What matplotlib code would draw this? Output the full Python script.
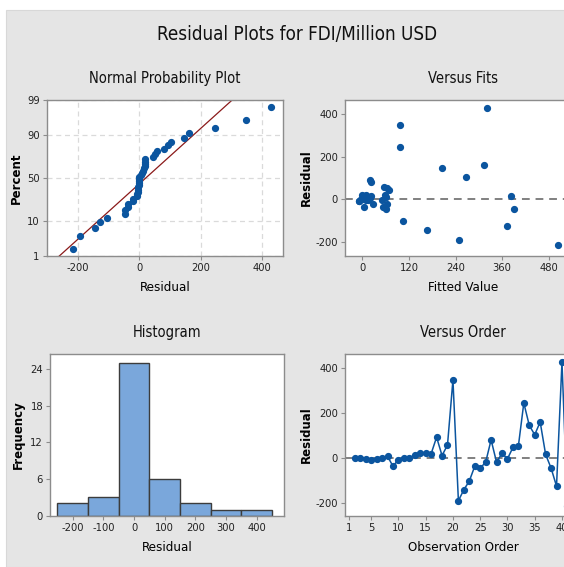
import numpy as np
import matplotlib
matplotlib.use('Agg')
import matplotlib.pyplot as plt
from matplotlib.patches import Rectangle
from statistics import NormalDist

plt.rcParams['axes.unicode_minus'] = False

order = list(range(2, 42))
residuals = [0, 0, -5, -8, -5, 0, 7, -38, -8, 0,
             0, 13, 20, 20, 18, 92, 10, 57, 348, -192,
             -143, -104, -38, -46, -20, 80, -20, 20, -5, 46,
             52, 245, 145, 103, 160, 15, -46, -127, 428, -215]
# fitted values paired with the residuals above (from "Versus Fits")
fitted = [5, -5, 10, -10, 15, 0, 20, 5, -8, 12,
          2, 8, -2, 8, 22, 20, 60, 55, 98, 249,
          166, 105, 52, 60, 27, 22, 62, 57, 50, 68,
          62, 97, 206, 267, 314, 383, 391, 373, 320, 505]

hist_edges = [-250, -150, -50, 50, 150, 250, 350, 450]
hist_ticks = [-200, -100, 0, 100, 200, 300, 400]
prob_ticks = [1, 10, 50, 90, 99]

BLUE = '#0b559f'
NARROW = dict(family='DejaVu Sans', stretch='condensed')
SPINE = '#8c8c8c'

W, H = 564, 567
fig = plt.figure(figsize=(W / 100, H / 100), dpi=100, facecolor='white')
fig.patches.append(Rectangle((6 / W, 0), 1, 1 - 10 / H, transform=fig.transFigure,
                             facecolor='#e5e5e5', edgecolor='#d8d8d8', lw=0.8, zorder=-5))


def box(l, t, r, b):
    return [l / W, 1 - b / H, (r - l) / W, (b - t) / H]


def style(ax):
    for s in ax.spines.values():
        s.set_color(SPINE)
        s.set_linewidth(1.0)
    ax.tick_params(direction='out', length=3, width=0.8, color=SPINE,
                   labelsize=8, pad=2)
    for lab in ax.get_xticklabels() + ax.get_yticklabels():
        lab.set_family('DejaVu Sans')
        lab.set_stretch('condensed')
        lab.set_color('#222222')


fig.text(0.527, 1 - 35 / H, 'Residual Plots for FDI/Million USD', ha='center', va='center',
         fontsize=13.5, color='#111111', **NARROW)

# --- Normal probability plot
ax1 = fig.add_axes(box(46.7, 100, 283.3, 255.7))
n = len(residuals)
srt = np.sort(residuals)
pct = (np.arange(1, n + 1) - 0.3) / (n + 0.4)
z = np.array([NormalDist().inv_cdf(p) for p in pct])
mu, sd = np.mean(residuals), np.std(residuals, ddof=1)
xl = np.array([-320, 480])
ax1.plot(xl, (xl - mu) / sd, color='#8b1a1a', lw=0.9, zorder=2)
ax1.plot(srt, z, 'o', color=BLUE, ms=4.2, zorder=3)
zt = [NormalDist().inv_cdf(p / 100) for p in prob_ticks]
ax1.set_yticks(zt)
ax1.set_yticklabels([str(p) for p in prob_ticks])
ax1.set_ylim(zt[0], zt[-1])
ax1.set_xlim(-301, 468)
ax1.set_xticks([-200, 0, 200, 400])
ax1.grid(True, ls=(0, (4, 3)), color='#dadada', lw=0.9)
ax1.set_axisbelow(True)
ax1.set_title('Normal Probability Plot', fontsize=10.5, pad=12, color='#111111', **NARROW)
ax1.set_xlabel('Residual', fontsize=9.5, labelpad=6, **NARROW)
ax1.set_ylabel('Percent', fontsize=8.5, weight='semibold', labelpad=3)
style(ax1)

# --- Versus fits
ax2 = fig.add_axes(box(345, 100, 581.6, 255.7))
ax2.axhline(0, color='#808080', ls=(0, (4, 3)), lw=1.4, zorder=1)
ax2.plot(fitted, residuals, 'o', color=BLUE, ms=4.2, zorder=3)
ax2.set_xlim(-45, 565)
ax2.set_ylim(-265, 467)
ax2.set_xticks([0, 120, 240, 360, 480])
ax2.set_yticks([-200, 0, 200, 400])
ax2.set_title('Versus Fits', fontsize=10.5, pad=12, color='#111111', **NARROW)
ax2.set_xlabel('Fitted Value', fontsize=9.5, labelpad=6, **NARROW)
ax2.set_ylabel('Residual', fontsize=8.5, weight='semibold', labelpad=2)
style(ax2)

# --- Histogram
ax3 = fig.add_axes(box(50, 354, 284, 515.7))
ax3.hist(residuals, bins=hist_edges, color='#7aa7db', edgecolor='#3c3c3c', lw=1.0)
ax3.set_xlim(-274, 489)
ax3.set_ylim(0, 26.5)
ax3.set_xticks(hist_ticks)
ax3.set_yticks([0, 6, 12, 18, 24])
ax3.set_title('Histogram', fontsize=10.5, pad=12, color='#111111', **NARROW)
ax3.set_xlabel('Residual', fontsize=9.5, labelpad=6, **NARROW)
ax3.set_ylabel('Frequency', fontsize=8.5, weight='semibold', labelpad=4)
style(ax3)

# --- Versus order
ax4 = fig.add_axes(box(345, 354, 581.6, 515.7))
ax4.axhline(0, color='#808080', ls=(0, (4, 3)), lw=1.4, zorder=1)
ax4.plot(order, residuals, '-o', color=BLUE, ms=4.2, lw=1.1, zorder=3)
ax4.set_xlim(0.2, 43.6)
ax4.set_ylim(-259, 464)
ax4.set_xticks([1, 5, 10, 15, 20, 25, 30, 35, 40])
ax4.set_yticks([-200, 0, 200, 400])
ax4.set_title('Versus Order', fontsize=10.5, pad=12, color='#111111', **NARROW)
ax4.set_xlabel('Observation Order', fontsize=9.5, labelpad=6, **NARROW)
ax4.set_ylabel('Residual', fontsize=8.5, weight='semibold', labelpad=2)
style(ax4)

fig.savefig('out.png', dpi=100, facecolor=fig.get_facecolor())
